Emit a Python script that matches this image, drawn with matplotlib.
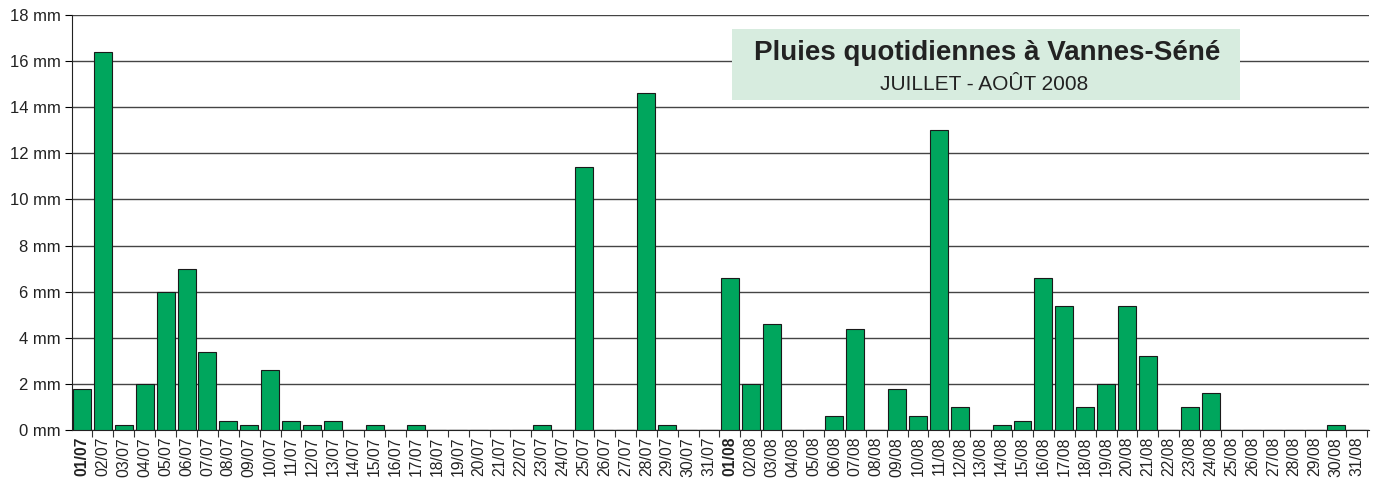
import matplotlib.pyplot as plt
from matplotlib.patches import Rectangle
import numpy as np

plt.rcParams['font.family'] = ['Liberation Sans', 'DejaVu Sans']

# pluies quotidiennes (mm), 01/07 -> 31/08/2008
juillet = [1.8, 16.4, 0.2, 2, 6, 7, 3.4, 0.4, 0.2, 2.6, 0.4, 0.2, 0.4, 0, 0.2, 0,
           0.2, 0, 0, 0, 0, 0, 0.2, 0, 11.4, 0, 0, 14.6, 0.2, 0, 0]
aout = [6.6, 2, 4.6, 0, 0, 0.6, 4.4, 0, 1.8, 0.6, 13, 1, 0, 0.2, 0.4, 6.6,
        5.4, 1, 2, 5.4, 3.2, 0, 1, 1.6, 0, 0, 0, 0, 0, 0.2, 0]
jours = ['%02d/07' % d for d in range(1, 32)] + ['%02d/08' % d for d in range(1, 32)]
pluie = juillet + aout
yticks = list(range(0, 19, 2))

fig = plt.figure(figsize=(13.76, 4.78), dpi=100)
ax = fig.add_axes([72/1376, 1-430/478, (1369-72)/1376, 415/478])

x = np.arange(len(pluie))
ax.bar(x, pluie, width=0.86, color='#00a65d', edgecolor='#1a1a1a', linewidth=0.8, zorder=3)

ax.set_xlim(-0.48, len(pluie) - 0.42)
ax.set_ylim(0, 18)
ax.set_yticks(yticks)
ax.set_yticklabels(['%d mm' % v for v in yticks], fontsize=12, color='#222222')
ax.yaxis.grid(True, color='#444444', linewidth=1)
ax.set_axisbelow(True)

ax.set_xticks(x)
ax.set_xticklabels(jours, rotation=90, fontsize=11.3, color='#222222')
for lab in ax.get_xticklabels():
    if lab.get_text().startswith('01/'):
        lab.set_fontweight('bold')
ax.set_xticks(x + 0.5, minor=True)
ax.tick_params(axis='x', which='major', length=0, pad=5)
ax.tick_params(axis='x', which='minor', length=5, width=0.8, color='#333333')
ax.tick_params(axis='y', length=5, width=0.8, pad=3)

for s in ['top', 'right']:
    ax.spines[s].set_visible(False)
ax.spines['left'].set_color('#222222')
ax.spines['bottom'].set_color('#222222')

# cartouche du titre
fig.patches.append(Rectangle((732/1376, 1-100/478), 508/1376, 71/478,
                             transform=fig.transFigure, facecolor='#d7ecdf',
                             edgecolor='none', zorder=5))
fig.text(987/1376, 1-53/478, 'Pluies quotidiennes à Vannes-Séné', ha='center', va='center',
         fontsize=20, fontweight='bold', color='#222222', zorder=6)
fig.text(984/1376, 1-84/478, 'JUILLET - AOÛT 2008', ha='center', va='center',
         fontsize=15, color='#222222', zorder=6)

fig.savefig('out.png', dpi=100)
